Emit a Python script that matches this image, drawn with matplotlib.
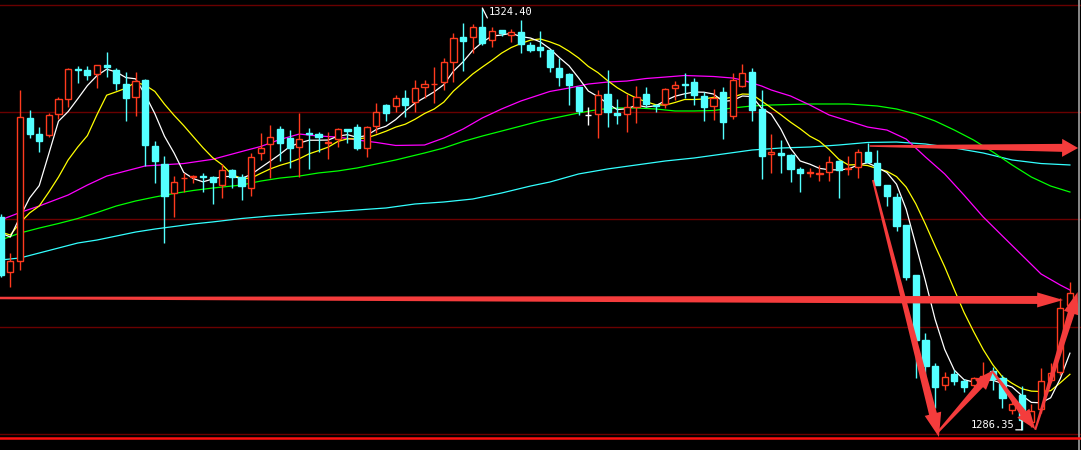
import numpy as np
import pandas as pd
import matplotlib
matplotlib.use('Agg')
import matplotlib.pyplot as plt
from matplotlib.patches import Rectangle, Polygon
from matplotlib.transforms import IdentityTransform

# ---------------- data (price) ----------------
opens = [1305.55, 1300.59, 1301.58, 1314.48, 1313.03, 1312.94, 1314.84, 1316.19, 1318.90, 1318.81,
         1318.45, 1319.26, 1318.81, 1317.54, 1316.37, 1317.90, 1311.95, 1310.33, 1307.71, 1309.02,
         1309.15, 1309.24, 1309.15, 1308.43, 1309.79, 1309.15, 1308.16, 1311.32, 1312.13, 1313.48,
         1312.67, 1311.86, 1313.12, 1313.03, 1312.22, 1312.58, 1313.48, 1313.66, 1311.77, 1313.75,
         1315.65, 1315.56, 1316.28, 1315.92, 1317.27, 1317.50, 1317.72, 1319.53, 1321.78, 1321.78,
         1322.68, 1321.51, 1322.41, 1321.96, 1322.23, 1321.06, 1320.88, 1320.61, 1318.99, 1318.45,
         1317.27, 1314.75, 1314.84, 1316.64, 1314.93, 1314.84, 1315.47, 1316.64, 1315.65, 1315.74,
         1317.18, 1317.54, 1317.72, 1316.46, 1315.56, 1316.82, 1314.66, 1317.36, 1318.63, 1315.29,
         1311.23, 1311.32, 1311.14, 1309.88, 1309.56, 1309.47, 1309.61, 1310.60, 1309.88, 1310.06,
         1311.41, 1310.42, 1308.43, 1307.35, 1304.82, 1300.31, 1294.45, 1292.11, 1290.39, 1291.39,
         1290.75, 1290.39, 1290.48, 1291.66, 1291.02, 1288.14, 1289.49, 1287.06, 1288.23, 1290.84,
         1291.57, 1297.61]
highs = [1305.82, 1302.30, 1317.00, 1315.20, 1313.66, 1314.93, 1316.37, 1318.95, 1319.17, 1319.17,
         1319.30, 1320.43, 1318.99, 1318.63, 1318.63, 1317.95, 1312.40, 1311.05, 1309.24, 1309.52,
         1309.30, 1309.52, 1309.20, 1310.33, 1309.85, 1309.43, 1311.32, 1313.12, 1313.84, 1313.75,
         1313.39, 1314.93, 1313.57, 1313.21, 1313.21, 1313.57, 1313.50, 1313.94, 1313.75, 1315.83,
         1315.70, 1316.55, 1317.00, 1317.90, 1317.90, 1319.08, 1319.89, 1322.14, 1323.05, 1322.96,
         1324.40, 1322.68, 1322.45, 1322.50, 1323.32, 1321.33, 1322.32, 1320.65, 1319.89, 1318.50,
         1317.30, 1315.47, 1317.00, 1318.81, 1316.19, 1316.64, 1317.36, 1317.27, 1315.74, 1317.18,
         1317.81, 1318.54, 1318.08, 1316.82, 1317.09, 1317.27, 1318.54, 1319.35, 1318.99, 1317.00,
         1313.03, 1312.49, 1311.20, 1310.06, 1309.97, 1310.24, 1311.05, 1310.65, 1311.05, 1311.68,
         1312.22, 1311.59, 1308.45, 1307.71, 1304.85, 1300.35, 1295.08, 1292.38, 1291.57, 1291.75,
         1290.93, 1291.11, 1292.47, 1292.02, 1291.29, 1289.04, 1290.30, 1288.68, 1291.93, 1292.38,
         1298.24, 1299.68]
lows = [1300.13, 1299.23, 1300.77, 1312.67, 1311.41, 1312.76, 1314.39, 1315.47, 1317.63, 1317.90,
        1317.18, 1318.17, 1317.00, 1314.21, 1314.66, 1310.15, 1308.61, 1303.20, 1305.55, 1307.80,
        1308.61, 1307.80, 1306.72, 1307.26, 1308.16, 1307.08, 1307.44, 1310.69, 1309.06, 1310.60,
        1309.97, 1309.15, 1309.88, 1311.41, 1310.78, 1311.86, 1312.22, 1311.59, 1310.96, 1313.12,
        1314.21, 1315.02, 1314.57, 1315.02, 1316.28, 1315.83, 1317.00, 1317.72, 1318.72, 1320.34,
        1321.06, 1320.88, 1321.87, 1321.33, 1320.34, 1320.43, 1319.98, 1318.63, 1317.36, 1315.65,
        1314.75, 1313.84, 1312.67, 1313.66, 1313.94, 1313.21, 1314.03, 1315.47, 1315.02, 1315.38,
        1316.10, 1316.28, 1315.65, 1314.21, 1314.30, 1312.58, 1314.39, 1317.27, 1314.21, 1308.97,
        1309.52, 1309.52, 1308.70, 1307.80, 1309.15, 1308.79, 1308.79, 1307.26, 1309.33, 1309.06,
        1310.51, 1308.43, 1306.54, 1304.28, 1299.86, 1291.02, 1290.84, 1288.32, 1289.94, 1290.39,
        1289.76, 1290.21, 1290.30, 1289.94, 1288.32, 1287.78, 1286.35, 1286.60, 1287.87, 1290.66,
        1291.29, 1297.43]
closes = [1300.31, 1301.58, 1314.57, 1313.03, 1312.40, 1314.75, 1316.19, 1318.90, 1318.81, 1318.35,
          1319.26, 1319.08, 1317.63, 1316.28, 1317.81, 1312.04, 1310.60, 1307.44, 1308.70, 1309.06,
          1309.24, 1309.15, 1308.70, 1309.79, 1309.15, 1308.34, 1310.96, 1311.77, 1312.76, 1312.22,
          1311.77, 1312.58, 1313.03, 1312.76, 1312.31, 1313.48, 1313.30, 1311.77, 1313.66, 1315.02,
          1314.93, 1316.28, 1315.65, 1317.18, 1317.54, 1317.54, 1319.53, 1321.69, 1321.42, 1322.68,
          1321.24, 1322.32, 1322.14, 1322.23, 1321.15, 1320.61, 1320.61, 1319.08, 1318.17, 1317.45,
          1315.11, 1314.75, 1316.55, 1315.02, 1314.75, 1315.47, 1316.37, 1315.74, 1315.56, 1317.09,
          1317.45, 1317.45, 1316.55, 1315.47, 1316.28, 1314.12, 1317.90, 1318.54, 1315.20, 1311.05,
          1311.41, 1311.14, 1309.88, 1309.52, 1309.61, 1309.52, 1310.51, 1309.79, 1309.97, 1311.41,
          1310.51, 1308.43, 1307.44, 1304.73, 1300.13, 1294.45, 1292.11, 1290.21, 1291.11, 1290.75,
          1290.21, 1291.02, 1291.20, 1290.93, 1289.22, 1288.68, 1287.24, 1288.05, 1290.75, 1291.48,
          1297.34, 1298.69]

# short moving averages: values before the window fills
ma5_head = [1304.10, 1303.74, 1305.55, 1307.26]
ma10_head = [1304.19, 1303.92, 1305.01, 1305.91, 1306.54, 1307.80, 1309.15, 1310.69, 1311.86]

# long moving averages (read at candle indices)
ma_mag_idx = [0, 2, 4, 7, 9, 11, 13, 15, 19, 22, 25, 27, 29, 31, 33, 35, 37, 39, 41, 44, 46, 48, 50,
              52, 54, 57, 59, 61, 63, 65, 67, 69, 71, 74, 76, 77, 78, 79, 80, 82, 84, 86, 88, 90, 92,
              94, 96, 98, 100, 102, 104, 106, 108, 110, 111]
ma_mag_val = [1305.28, 1305.95, 1306.54, 1307.53, 1308.43, 1309.24, 1309.70, 1310.15, 1310.37, 1310.75,
              1311.45, 1311.91, 1312.54, 1313.03, 1312.85, 1312.76, 1312.49, 1312.27, 1312.00, 1312.04,
              1312.67, 1313.48, 1314.48, 1315.29, 1316.01, 1316.87, 1317.18, 1317.54, 1317.72, 1317.81,
              1318.04, 1318.17, 1318.31, 1318.22, 1318.08, 1317.90, 1317.63, 1317.36, 1317.00, 1316.46,
              1315.65, 1314.75, 1314.21, 1313.66, 1313.39, 1312.58, 1310.96, 1309.43, 1307.53, 1305.55,
              1303.83, 1302.12, 1300.41, 1299.41, 1298.96]
ma_grn_idx = [0, 2, 4, 6, 8, 10, 12, 14, 16, 18, 20, 22, 25, 27, 29, 31, 33, 35, 37, 39, 41, 44, 46,
              48, 50, 52, 54, 56, 58, 60, 62, 64, 66, 68, 70, 72, 74, 76, 78, 80, 84, 88, 91, 93, 95,
              97, 99, 101, 103, 105, 107, 109, 111]
ma_grn_val = [1303.47, 1304.10, 1304.55, 1304.96, 1305.41, 1305.95, 1306.54, 1306.99, 1307.35, 1307.67,
              1307.94, 1308.16, 1308.43, 1308.79, 1309.06, 1309.24, 1309.52, 1309.70, 1309.97, 1310.33,
              1310.69, 1311.32, 1311.77, 1312.36, 1312.85, 1313.30, 1313.75, 1314.21, 1314.57, 1314.93,
              1315.24, 1315.38, 1315.38, 1315.29, 1315.11, 1315.11, 1315.15, 1315.38, 1315.56, 1315.65,
              1315.74, 1315.74, 1315.56, 1315.29, 1314.84, 1314.21, 1313.39, 1312.49, 1311.41, 1310.24,
              1309.15, 1308.34, 1307.80]
ma_cyn_idx = [0, 2, 4, 6, 8, 10, 12, 14, 16, 18, 20, 22, 25, 28, 31, 34, 37, 40, 43, 46, 49, 52, 55,
              57, 60, 63, 66, 69, 72, 75, 78, 81, 84, 87, 90, 93, 96, 99, 102, 105, 108, 111]
ma_cyn_val = [1301.67, 1301.85, 1302.30, 1302.75, 1303.20, 1303.47, 1303.83, 1304.19, 1304.46, 1304.69,
              1304.92, 1305.10, 1305.41, 1305.64, 1305.82, 1306.00, 1306.18, 1306.36, 1306.72, 1306.90,
              1307.17, 1307.71, 1308.34, 1308.70, 1309.43, 1309.88, 1310.24, 1310.60, 1310.87, 1311.23,
              1311.59, 1311.77, 1311.86, 1312.04, 1312.27, 1312.31, 1312.13, 1311.77, 1311.32, 1310.69,
              1310.37, 1310.24]

grid_levels = [1324.67, 1315.02, 1305.37, 1295.62, 1285.97]

# hand-drawn arrows: (tail index, tail price, tip index, tip price)
arrows = [
    (90.2, 1311.95, 111.85, 1311.77),
    (-0.1, 1298.24, 110.3, 1298.06),
    (90.55, 1308.88, 97.4, 1285.70),
    (97.2, 1286.06, 103.1, 1291.75),
    (103.0, 1291.57, 107.4, 1286.40),
    (107.4, 1286.35, 111.8, 1298.78),
]
arrow_sizes = [  # tail width, shaft end width, head width, head length (px)
    (1.5, 8, 18, 16),
    (2.5, 8, 15, 26),
    (2.0, 8, 17, 24),
    (2.0, 7, 15, 20),
    (2.0, 7, 15, 20),
    (2.0, 7, 15, 22),
]

# ---------------- figure ----------------
UP = '#ff3a1e'
DOWN = '#54ffff'
fig = plt.figure(figsize=(10.81, 4.5), dpi=100, facecolor='black')
ax = fig.add_axes([0, 0, 1, 1])
ax.set_facecolor('black')
ax.set_xlim(-0.073, 112.15)
ax.set_ylim(1284.53, 1325.12)
ax.axis('off')

for g in grid_levels:
    ax.axhline(g, color='#6a0000', lw=1.0, zorder=1)

n = len(closes)
xs = np.arange(n)
w = 0.64
for i in range(n):
    o, h, l, c = opens[i], highs[i], lows[i], closes[i]
    if c > o:
        col = UP
        ax.vlines(i, c, h, color=col, lw=1.0, zorder=4)
        ax.vlines(i, l, o, color=col, lw=1.0, zorder=4)
        ax.add_patch(Rectangle((i - w / 2, o), w, c - o, facecolor='black',
                               edgecolor=col, lw=1.0, zorder=5))
    else:
        col = DOWN if c < o else '#ffffff'
        ax.vlines(i, l, h, color=col, lw=1.0, zorder=4)
        ax.add_patch(Rectangle((i - w / 2, c), w, max(o - c, 0.0), facecolor=col,
                               edgecolor=col, lw=1.0, zorder=5))

cs = pd.Series(closes)
ma5 = cs.rolling(5).mean().to_numpy()
ma5[:len(ma5_head)] = ma5_head
ma10 = cs.rolling(10).mean().to_numpy()
ma10[:len(ma10_head)] = ma10_head

ax.plot(ma_cyn_idx, ma_cyn_val, color='#33ffff', lw=0.9, zorder=3)
ax.plot(ma_grn_idx, ma_grn_val, color='#00ff00', lw=0.9, zorder=3)
ax.plot(ma_mag_idx, ma_mag_val, color='#ff00ff', lw=0.9, zorder=3)
ax.plot(xs, ma10, color='#ffff00', lw=0.9, zorder=3)
ax.plot(xs, ma5, color='#ffffff', lw=0.9, zorder=3)

# right border
ax.plot([1079 / 1081] * 2, [0, 1], transform=ax.transAxes, color='#a0a0a0', lw=1.2, zorder=8)

# bottom red line
ax.axhline(1285.62, color='#ff1010', lw=1.8, zorder=8)

# high / low labels
ihi = int(np.argmax(highs))
ilo = int(np.argmin(lows))
ax.annotate('', xy=(ihi, highs[ihi]), xytext=(5, -10), textcoords='offset pixels',
            arrowprops=dict(arrowstyle='-', color='white', lw=0.9, shrinkA=0, shrinkB=0), zorder=9)
ax.annotate(f'{highs[ihi]:.2f}', xy=(ihi, highs[ihi]), xytext=(6, -4), textcoords='offset pixels',
            ha='left', va='center', color='white', fontsize=7.5, family='DejaVu Sans Mono', zorder=9)
ax.annotate('', xy=(ilo, lows[ilo]), xytext=(0, 9), textcoords='offset pixels',
            arrowprops=dict(arrowstyle='-', color='white', lw=0.9, shrinkA=0, shrinkB=0), zorder=9)
ax.annotate('', xy=(ilo, lows[ilo]), xytext=(-6, 0), textcoords='offset pixels',
            arrowprops=dict(arrowstyle='-', color='white', lw=0.9, shrinkA=0, shrinkB=0), zorder=9)
ax.annotate(f'{lows[ilo]:.2f}', xy=(ilo, lows[ilo]), xytext=(-7, 5), textcoords='offset pixels',
            ha='right', va='center', color='white', fontsize=7.5, family='DejaVu Sans Mono', zorder=9)

# arrows drawn in pixel space
def draw_arrow(x0, y0, x1, y1, wt, we, hw, hl):
    p0 = ax.transData.transform((x0, y0))
    p1 = ax.transData.transform((x1, y1))
    d = p1 - p0
    u = d / np.hypot(*d)
    nv = np.array([-u[1], u[0]])
    base = p1 - u * hl
    pts = [p0 + nv * wt / 2, base + nv * we / 2, base + nv * hw / 2, p1,
           base - nv * hw / 2, base - nv * we / 2, p0 - nv * wt / 2]
    ax.add_patch(Polygon(pts, closed=True, transform=IdentityTransform(),
                         facecolor='#f43c3c', edgecolor='none', zorder=7))

for (a, s) in zip(arrows, arrow_sizes):
    draw_arrow(*a, *s)

fig.savefig('out.png', dpi=100, facecolor='black')
